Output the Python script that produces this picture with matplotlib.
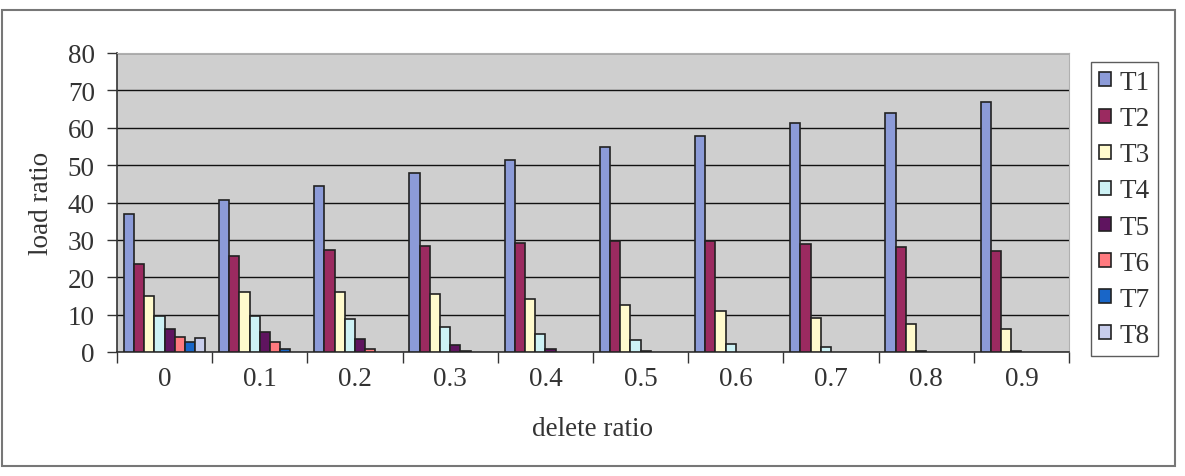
import matplotlib
matplotlib.use("Agg")
import matplotlib.pyplot as plt
import numpy as np
from matplotlib.patches import Rectangle

plt.rcParams['font.family'] = ['Liberation Serif', 'DejaVu Serif']

categories = ['0', '0.1', '0.2', '0.3', '0.4', '0.5', '0.6', '0.7', '0.8', '0.9']
series = ['T1', 'T2', 'T3', 'T4', 'T5', 'T6', 'T7', 'T8']

T1 = [36.9, 40.6, 44.4, 48.0, 51.3, 54.8, 57.7, 61.2, 64.0, 67.0]
T2 = [23.5, 25.7, 27.3, 28.3, 29.2, 29.7, 29.6, 28.8, 28.2, 27.0]
T3 = [15.0, 16.0, 16.0, 15.5, 14.3, 12.6, 11.0, 9.2, 7.5, 6.1]
T4 = [9.6, 9.6, 8.7, 6.7, 4.8, 3.2, 2.2, 1.3, 0.4, 0.3]
T5 = [6.1, 5.4, 3.6, 2.0, 0.7, 0.3, 0.0, 0.0, 0.0, 0.0]
T6 = [4.0, 2.6, 0.8, 0.3, 0.0, 0.0, 0.0, 0.0, 0.0, 0.0]
T7 = [2.6, 0.8, 0.0, 0.0, 0.0, 0.0, 0.0, 0.0, 0.0, 0.0]
T8 = [3.8, 0.0, 0.0, 0.0, 0.0, 0.0, 0.0, 0.0, 0.0, 0.0]
values = [T1, T2, T3, T4, T5, T6, T7, T8]

colors = ['#8c9bd8', '#9b2a60', '#fffacd', '#cdf2f5', '#5f145f',
          '#ff7a7f', '#1966c8', '#c8cdeb']

fs = 19.5
txt = '#333333'

fig = plt.figure(figsize=(11.85, 4.77), dpi=100)
ax = fig.add_axes([117/1185, 124/477, 952/1185, 299/477])
ax.set_facecolor('#cfcfcf')

x = np.arange(len(categories))
w = 0.107
start = -0.5 + 0.072
for i, (name, vals) in enumerate(zip(series, values)):
    lws = [1.2 if v > 0 else 0 for v in vals]
    ax.bar(x + start + w * i, vals, w, align='edge', color=colors[i],
           edgecolor='#222222', linewidth=lws, label=name, zorder=3)

ax.set_xlim(-0.5, 9.5)
ax.set_ylim(0, 80)
ax.set_yticks(range(0, 81, 10))
ax.yaxis.grid(True, color='#111111', linewidth=1.0, zorder=1)
ax.set_axisbelow(True)

# boundary ticks between groups, labels at group centres
ax.set_xticks(np.arange(-0.5, 10, 1.0))
ax.set_xticklabels([])
ax.set_xticks(x, minor=True)
ax.set_xticklabels(categories, minor=True)
ax.tick_params(axis='x', which='major', direction='out', length=8, width=1, color=txt)
ax.tick_params(axis='x', which='minor', length=0, pad=10, labelsize=fs, labelcolor=txt)
ax.tick_params(axis='y', direction='out', length=7, width=1, color=txt,
               labelsize=fs, labelcolor=txt, pad=9)

for s in ['top', 'right']:
    ax.spines[s].set_color('#b0b0b0')
ax.spines['left'].set_color(txt)
ax.spines['bottom'].set_color(txt)
ax.spines['left'].set_linewidth(1.2)
ax.spines['bottom'].set_linewidth(1.2)

ax.set_xlabel('delete ratio', fontsize=fs, color=txt, labelpad=18)
ax.set_ylabel('load ratio', fontsize=fs, color=txt, labelpad=10)

leg = ax.legend(loc='upper left', bbox_to_anchor=(1091/1185, 1 - 63/477),
                bbox_transform=fig.transFigure, borderaxespad=0,
                fontsize=fs, frameon=True, fancybox=False,
                handlelength=0.45, handleheight=0.42, handletextpad=0.3,
                labelspacing=0.41, borderpad=0.3)
leg.get_frame().set_edgecolor(txt)
leg.get_frame().set_linewidth(1.0)
for t in leg.get_texts():
    t.set_color(txt)

fig.patches.append(Rectangle((0.002, 10/477), 1173/1185, 456/477,
                             transform=fig.transFigure, fill=False,
                             edgecolor='#777777', linewidth=1.5))

fig.savefig('out.png', dpi=100)
